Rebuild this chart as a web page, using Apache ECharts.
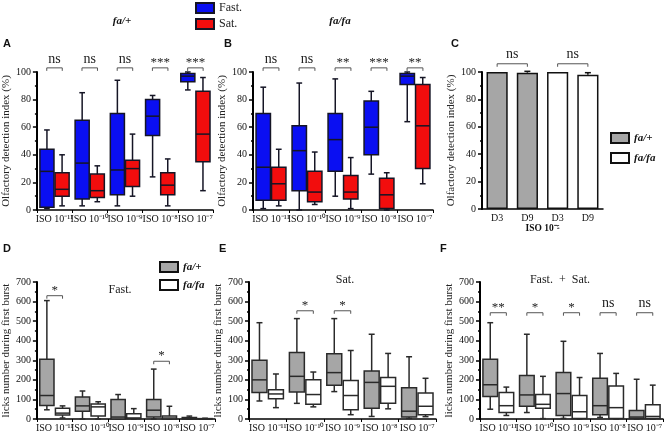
<!DOCTYPE html>
<html>
<head>
<meta charset="utf-8">
<script src="https://cdn.jsdelivr.net/npm/echarts@6/dist/echarts.min.js"></script>
<style>
html, body { margin: 0; padding: 0; background: #fff; }
#chart { width: 669px; height: 433px; }
</style>
</head>
<body>
<div id="chart"></div>
<script>
var SERIF = 'Liberation Serif, Times New Roman, serif';

// categories
var isoCats = ['ISO 10⁻¹¹', 'ISO 10⁻¹⁰', 'ISO 10⁻⁹', 'ISO 10⁻⁸', 'ISO 10⁻⁷'];
var dayCats = ['D3', 'D9', 'D3', 'D9'];

// box values: [min, q1, median, q3, max]
// A  fa/+
var aFast = [[1, 2, 28, 44, 58], [3, 8, 34, 65, 85], [3, 11, 29, 70, 94], [24, 54, 68, 80, 83], [87, 93, 97, 99, 100]];
var aSat  = [[3, 10, 15, 27, 40], [6, 9, 14, 26, 32], [10, 17, 30, 36, 55], [3, 11, 18, 27, 37], [14, 35, 55, 86, 96]];
// B  fa/fa
var bFast = [[1, 7, 31, 70, 89], [0, 14, 43, 61, 92], [10, 28, 51, 70, 95], [26, 40, 60, 79, 86], [64, 91, 97, 99, 100]];
var bSat  = [[3, 7, 19, 31, 44], [4, 6, 13, 28, 42], [1, 8, 13, 25, 38], [0, 1, 11, 23, 27], [19, 30, 61, 91, 96]];
// C  bars, ISO 10-5
var cHet = [100, 99.5, '-', '-'];
var cHom = ['-', '-', 100, 98];
var cErr = [[1, 99.5, 1], [3, 98, 1.5]];
// D  Fast.
var dHet = [[47, 69, 120, 305, 605], [0, 40, 67, 112, 143], [0, 0, 10, 100, 125], [0, 10, 45, 100, 255], [0, 0, 3, 8, 15]];
var dHom = [[5, 20, 30, 55, 67], [0, 15, 62, 77, 88], [0, 3, 5, 27, 53], [0, 0, 5, 15, 65], [0, 0, 0, 2, 4]];
// E  Sat.
var eHet = [[92, 135, 200, 300, 492], [80, 138, 218, 340, 513], [140, 173, 237, 333, 513], [13, 55, 187, 245, 433], [3, 10, 40, 160, 318]];
var eHom = [[58, 103, 128, 150, 230], [62, 75, 125, 200, 240], [22, 47, 120, 197, 350], [52, 80, 167, 212, 335], [12, 22, 65, 133, 208]];
// F  Fast. + Sat.
var fHet = [[50, 115, 175, 305, 492], [33, 65, 123, 222, 433], [3, 18, 130, 237, 397], [8, 22, 68, 208, 335], [0, 3, 10, 43, 203]];
var fHom = [[18, 33, 68, 135, 163], [2, 55, 75, 125, 218], [0, 3, 37, 120, 212], [0, 3, 58, 168, 233], [0, 3, 13, 73, 173]];

// significance marks: [category, bracket y]
var aSigPos = [[0, 103], [1, 103], [2, 103], [3, 103], [4, 103]];
var aSig = ['ns', 'ns', 'ns', '***', '***'];
var bSigPos = [[0, 103], [1, 103], [2, 103], [3, 103], [4, 103]];
var bSig = ['ns', 'ns', '**', '***', '**'];
var cSigPos = [[0, 1, 106], [2, 3, 106]];
var cSig = ['ns', 'ns'];
var dSigPos = [[0, 630], [3, 295]];
var dSig = ['*', '*'];
var eSigPos = [[1, 553], [2, 553]];
var eSig = ['*', '*'];
var fSigPos = [[0, 543], [1, 543], [2, 543], [3, 543], [4, 543]];
var fSig = ['**', '*', '*', 'ns', 'ns'];

var BLUE = '#0a0ff2', RED = '#f20d0d', GRAY = '#a6a6a6', WHITE = '#ffffff';

var chart = echarts.init(document.getElementById('chart'), null, { renderer: 'canvas' });

function boxRender(offset, fill, stroke) {
  return function (params, api) {
    var cat = api.value(0);
    var band = api.size([1, 0])[0];
    var cx = api.coord([cat, 0])[0] + offset * band;
    var hw = band * 0.2, cap = band * 0.08;
    var y = [1, 2, 3, 4, 5].map(function (d) { return api.coord([cat, api.value(d)])[1]; });
    var ls = { stroke: stroke, lineWidth: 1.5 };
    return {
      type: 'group',
      children: [
        { type: 'line', shape: { x1: cx, y1: y[0], x2: cx, y2: y[4] }, style: ls },
        { type: 'line', shape: { x1: cx - cap, y1: y[0], x2: cx + cap, y2: y[0] }, style: ls },
        { type: 'line', shape: { x1: cx - cap, y1: y[4], x2: cx + cap, y2: y[4] }, style: ls },
        { type: 'rect', shape: { x: cx - hw, y: y[3], width: 2 * hw, height: y[1] - y[3] },
          style: { fill: fill, stroke: stroke, lineWidth: 1.5 } },
        { type: 'line', shape: { x1: cx - hw, y1: y[2], x2: cx + hw, y2: y[2] }, style: ls }
      ]
    };
  };
}

function bracket(x1, x2, y, label) {
  var star = label.indexOf('*') >= 0;
  return {
    type: 'group',
    children: [
      { type: 'polyline', shape: { points: [[x1, y + 3], [x1, y], [x2, y], [x2, y + 3]] },
        style: { stroke: '#555', lineWidth: 1, fill: null } },
      { type: 'text', x: (x1 + x2) / 2, y: star ? y + 1 : y - 2,
        style: { text: label, font: (star ? '13px ' : '14px ') + SERIF, fill: '#222',
                 align: 'center', verticalAlign: 'bottom' } }
    ]
  };
}

function sigRender(labels, half) {
  return function (params, api) {
    var cat = api.value(0);
    var band = api.size([1, 0])[0];
    var p = api.coord([cat, api.value(1)]);
    return bracket(p[0] - half * band, p[0] + half * band, p[1], labels[params.dataIndex]);
  };
}

function pairSigRender(labels) {
  return function (params, api) {
    var p1 = api.coord([api.value(0), api.value(2)]);
    var p2 = api.coord([api.value(1), api.value(2)]);
    return bracket(p1[0], p2[0], p1[1], labels[params.dataIndex]);
  };
}

function errRender(params, api) {
  var cat = api.value(0);
  var p0 = api.coord([cat, api.value(1)]);
  var p1 = api.coord([cat, api.value(1) + api.value(2)]);
  var ls = { stroke: '#111', lineWidth: 1.5 };
  return {
    type: 'group',
    children: [
      { type: 'line', shape: { x1: p0[0], y1: p0[1], x2: p1[0], y2: p1[1] }, style: ls },
      { type: 'line', shape: { x1: p1[0] - 3, y1: p1[1], x2: p1[0] + 3, y2: p1[1] }, style: ls }
    ]
  };
}

var grids = [
  { left: 33, top: 72, width: 180, height: 138 },
  { left: 253, top: 72, width: 180, height: 138 },
  { left: 482, top: 72, width: 121, height: 137 },
  { left: 29, top: 282, width: 186, height: 138 },
  { left: 249, top: 282, width: 187, height: 138 },
  { left: 480, top: 282, width: 183, height: 138 }
];

function xCat(i, cats, ticks) {
  return {
    type: 'category', gridIndex: i, data: cats,
    axisLine: { lineStyle: { color: '#000', width: 1.5 } },
    axisTick: { show: ticks, length: 3, lineStyle: { color: '#000', width: 1 } },
    axisLabel: { fontFamily: SERIF, fontSize: 10, color: '#111', margin: 4, interval: 0 }
  };
}

function yVal(i, max, step, name, gap) {
  return {
    type: 'value', gridIndex: i, min: 0, max: max, interval: step,
    name: name, nameLocation: 'middle', nameGap: gap,
    nameTextStyle: { fontFamily: SERIF, fontSize: 11, color: '#222' },
    axisLine: { show: true, lineStyle: { color: '#000', width: 2 } },
    axisTick: { show: true, length: 4, lineStyle: { color: '#000', width: 1.5 } },
    minorTick: { show: true, splitNumber: 2, length: 2, lineStyle: { color: '#000', width: 1.5 } },
    axisLabel: { fontFamily: SERIF, fontSize: 10, color: '#111', margin: 6 },
    splitLine: { show: false }
  };
}

function rows(arr) {
  return arr.map(function (v, i) { return [i].concat(v); });
}

function boxSeries(name, idx, arr, offset, fill, stroke) {
  return {
    type: 'custom', name: name, xAxisIndex: idx, yAxisIndex: idx,
    itemStyle: { color: fill, borderColor: stroke, borderWidth: 1.5 },
    renderItem: boxRender(offset, fill, stroke),
    encode: { x: 0, y: [1, 2, 3, 4, 5] },
    data: rows(arr), z: 2
  };
}

function sigSeries(idx, pos, labels) {
  return {
    type: 'custom', xAxisIndex: idx, yAxisIndex: idx, silent: true,
    renderItem: sigRender(labels, 0.22),
    encode: { x: 0, y: 1 }, data: pos, z: 3
  };
}

var lic = 'licks number during first burst';
var odi = 'Olfactory detection index (%)';

function title(text, left, top, font, align) {
  return {
    text: text, left: left, top: top, padding: 0, textAlign: align || 'left',
    textStyle: font
  };
}

var letterFont = { fontFamily: 'Liberation Sans, Arial, sans-serif', fontWeight: 'bold', fontSize: 11, color: '#111' };
var genoFont = { fontFamily: SERIF, fontStyle: 'italic', fontWeight: 'bold', fontSize: 11, color: '#111' };
var condFont = { fontFamily: SERIF, fontWeight: 'normal', fontSize: 12, color: '#222' };

var option = {
  animation: false,
  title: [
    title('fa/+', 122, 16, genoFont, 'center'),
    title('fa/fa', 340, 16, genoFont, 'center'),
    title('A', 3, 38, letterFont),
    title('B', 224, 38, letterFont),
    title('C', 451, 38, letterFont),
    title('D', 3, 243, letterFont),
    title('E', 219, 243, letterFont),
    title('F', 440, 243, letterFont),
    title('Fast.', 120, 284, condFont, 'center'),
    title('Sat.', 345, 274, condFont, 'center'),
    title('Fast.  +  Sat.', 560, 274, condFont, 'center')
  ],
  legend: [
    { data: ['Fast.', 'Sat.'], orient: 'vertical', left: 195, top: 2, padding: 0,
      itemWidth: 18, itemHeight: 10, itemGap: 4, icon: 'rect',
      textStyle: { fontFamily: SERIF, fontSize: 12, color: '#222' } },
    { data: ['fa/+', 'fa/fa'], orient: 'vertical', left: 610, top: 132, padding: 0,
      itemWidth: 18, itemHeight: 10, itemGap: 8, icon: 'rect', textStyle: genoFont },
    { data: ['fa/+', 'fa/fa'], orient: 'vertical', left: 159, top: 261, padding: 0,
      itemWidth: 18, itemHeight: 10, itemGap: 6, icon: 'rect', textStyle: genoFont }
  ],
  grid: grids,
  xAxis: [
    xCat(0, isoCats, true), xCat(1, isoCats, true),
    (function () {
      var a = xCat(2, dayCats, false);
      a.name = 'ISO 10⁻⁵';
      a.nameLocation = 'middle';
      a.nameGap = 14;
      a.nameTextStyle = { fontFamily: SERIF, fontWeight: 'bold', fontSize: 9.5, color: '#111' };
      return a;
    })(),
    xCat(3, isoCats, true), xCat(4, isoCats, true), xCat(5, isoCats, true)
  ],
  yAxis: [
    yVal(0, 100, 20, odi, 18), yVal(1, 100, 20, odi, 21), yVal(2, 100, 20, odi, 20),
    yVal(3, 700, 100, lic, 16), yVal(4, 700, 100, lic, 17), yVal(5, 700, 100, lic, 22)
  ],
  series: [
    boxSeries('Fast.', 0, aFast, -0.215, BLUE, '#151525'),
    boxSeries('Sat.', 0, aSat, 0.215, RED, '#151525'),
    sigSeries(0, aSigPos, aSig),
    boxSeries('Fast.', 1, bFast, -0.215, BLUE, '#151525'),
    boxSeries('Sat.', 1, bSat, 0.215, RED, '#151525'),
    sigSeries(1, bSigPos, bSig),
    { type: 'bar', name: 'fa/+', xAxisIndex: 2, yAxisIndex: 2, data: cHet, barWidth: '70%', barGap: '-100%',
      itemStyle: { color: GRAY, borderColor: '#111', borderWidth: 1.5 } },
    { type: 'bar', name: 'fa/fa', xAxisIndex: 2, yAxisIndex: 2, data: cHom, barWidth: '70%', barGap: '-100%',
      itemStyle: { color: WHITE, borderColor: '#111', borderWidth: 1.5 } },
    { type: 'custom', xAxisIndex: 2, yAxisIndex: 2, silent: true, renderItem: errRender,
      encode: { x: 0, y: 1 }, data: cErr, z: 3 },
    { type: 'custom', xAxisIndex: 2, yAxisIndex: 2, silent: true, renderItem: pairSigRender(cSig),
      encode: { x: [0, 1], y: 2 }, data: cSigPos, z: 3 },
    boxSeries('fa/+', 3, dHet, -0.22, GRAY, '#2a2a2a'),
    boxSeries('fa/fa', 3, dHom, 0.22, WHITE, '#2a2a2a'),
    sigSeries(3, dSigPos, dSig),
    boxSeries('fa/+', 4, eHet, -0.22, GRAY, '#2a2a2a'),
    boxSeries('fa/fa', 4, eHom, 0.22, WHITE, '#2a2a2a'),
    sigSeries(4, eSigPos, eSig),
    boxSeries('fa/+', 5, fHet, -0.22, GRAY, '#2a2a2a'),
    boxSeries('fa/fa', 5, fHom, 0.22, WHITE, '#2a2a2a'),
    sigSeries(5, fSigPos, fSig)
  ]
};

chart.setOption(option);
window.addEventListener('resize', chart.resize);
</script>
</body>
</html>
